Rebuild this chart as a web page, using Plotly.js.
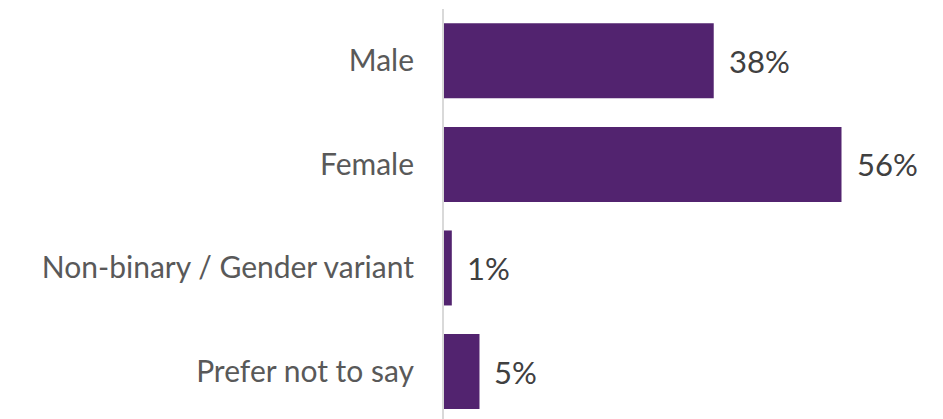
<!DOCTYPE html>
<html>
<head>
<meta charset="utf-8">
<script src="https://cdn.plot.ly/plotly-3.0.1.min.js"></script>
<style>html,body{margin:0;padding:0;background:#fff;}#chart{width:943px;height:419px;}</style>
</head>
<body>
<div id="chart"></div>
<script>
const categories = ["Male", "Female", "Non-binary / Gender variant", "Prefer not to say"];
const values = [38, 56, 1.1, 5];
const valueLabels = ["38%", "56%", "1%", "5%"];

const trace = {
  type: "bar",
  orientation: "h",
  y: categories,
  x: values,
  marker: {color: "#52236F"},
  hoverinfo: "none"
};

const annotations = categories.map((c, i) => ({
  x: values[i], y: c, xref: "x", yref: "y",
  text: valueLabels[i], showarrow: false,
  xanchor: "left", yanchor: "middle", xshift: 13,
  font: {family: "Lato, sans-serif", size: 31, color: "#404040"}
}));

const layout = {
  width: 943, height: 419,
  margin: {l: 444, r: 0, t: 9, b: 0},
  paper_bgcolor: "#fff", plot_bgcolor: "#fff",
  showlegend: false,
  bargap: 0.276,
  xaxis: {range: [0, 70.3], visible: false, fixedrange: true},
  yaxis: {
    type: "category",
    range: [3.458, -0.5],
    showline: true, linecolor: "#d9d9d9", linewidth: 2,
    showgrid: false, zeroline: false,
    ticks: "", ticklabelstandoff: 22,
    tickfont: {family: "Lato, sans-serif", size: 30, color: "#595959"}
  },
  annotations: annotations
};

Plotly.newPlot("chart", [trace], layout, {displayModeBar: false, staticPlot: true});
</script>
</body>
</html>
